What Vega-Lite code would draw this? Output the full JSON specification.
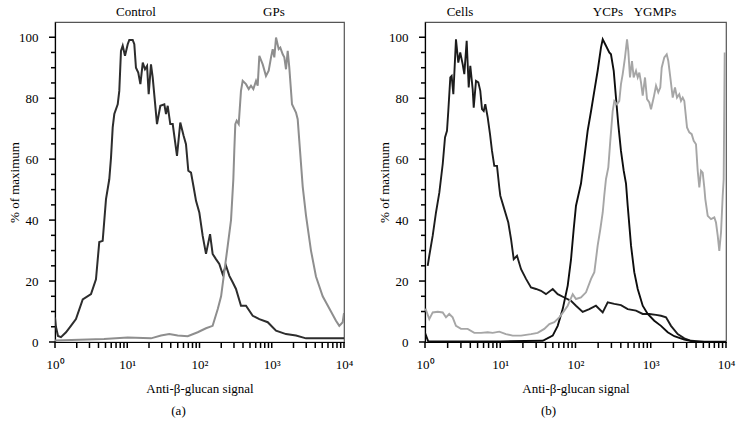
{
  "$schema": "https://vega.github.io/schema/vega-lite/v6.json",
  "background": "white",
  "padding": {"left": 7, "top": 5, "right": 5, "bottom": 5},
  "bounds": "flush",
  "spacing": 81,
  "datasets": {
    "a": [
      {"series":"Control","signal":1,"pct":8},{"series":"Control","signal":1.03,"pct":5},{"series":"Control","signal":1.1,"pct":2},{"series":"Control","signal":1.21,"pct":1.6},{"series":"Control","signal":1.42,"pct":3.2},{"series":"Control","signal":1.66,"pct":5.3},{"series":"Control","signal":1.95,"pct":7.5},{"series":"Control","signal":2.42,"pct":14},{"series":"Control","signal":3.15,"pct":15.7},{"series":"Control","signal":3.69,"pct":20.6},{"series":"Control","signal":4.1,"pct":32.8},{"series":"Control","signal":4.57,"pct":33.2},{"series":"Control","signal":5.08,"pct":46.9},{"series":"Control","signal":5.64,"pct":53.4},{"series":"Control","signal":5.96,"pct":60.5},{"series":"Control","signal":6.29,"pct":70.4},{"series":"Control","signal":6.62,"pct":74.8},{"series":"Control","signal":7.38,"pct":78},{"series":"Control","signal":7.76,"pct":82.4},{"series":"Control","signal":8.19,"pct":95.5},{"series":"Control","signal":8.65,"pct":97.2},{"series":"Control","signal":9.31,"pct":93.9},{"series":"Control","signal":10.15,"pct":97.7},{"series":"Control","signal":10.67,"pct":99.1},{"series":"Control","signal":11.9,"pct":99.1},{"series":"Control","signal":12.52,"pct":97.7},{"series":"Control","signal":13.2,"pct":90},{"series":"Control","signal":14.2,"pct":88.4},{"series":"Control","signal":15.2,"pct":84.6},{"series":"Control","signal":16.4,"pct":91.7},{"series":"Control","signal":17.6,"pct":89.5},{"series":"Control","signal":18.8,"pct":90.6},{"series":"Control","signal":19.8,"pct":81.3},{"series":"Control","signal":21.3,"pct":91.1},{"series":"Control","signal":22.5,"pct":86.8},{"series":"Control","signal":25.8,"pct":71.5},{"series":"Control","signal":28.7,"pct":77.5},{"series":"Control","signal":32.6,"pct":78},{"series":"Control","signal":34.4,"pct":74.8},{"series":"Control","signal":36.3,"pct":77.5},{"series":"Control","signal":39.4,"pct":71.5},{"series":"Control","signal":42.6,"pct":71.5},{"series":"Control","signal":48.8,"pct":61.1},{"series":"Control","signal":54.2,"pct":72},{"series":"Control","signal":60.4,"pct":67.6},{"series":"Control","signal":65,"pct":64.9},{"series":"Control","signal":70,"pct":56.2},{"series":"Control","signal":76.3,"pct":55.6},{"series":"Control","signal":83.1,"pct":50.7},{"series":"Control","signal":89.5,"pct":46.3},{"series":"Control","signal":99.4,"pct":42.5},{"series":"Control","signal":110.7,"pct":34.8},{"series":"Control","signal":123,"pct":28.9},{"series":"Control","signal":140,"pct":35.4},{"series":"Control","signal":152,"pct":28.9},{"series":"Control","signal":169,"pct":27.2},{"series":"Control","signal":188,"pct":25.6},{"series":"Control","signal":209,"pct":22.3},{"series":"Control","signal":233,"pct":25},{"series":"Control","signal":259,"pct":21.7},{"series":"Control","signal":288,"pct":19.6},{"series":"Control","signal":320,"pct":17.4},{"series":"Control","signal":375,"pct":11.9},{"series":"Control","signal":440,"pct":11.9},{"series":"Control","signal":545,"pct":8.6},{"series":"Control","signal":673,"pct":7.5},{"series":"Control","signal":880,"pct":6.5},{"series":"Control","signal":1146,"pct":3.7},{"series":"Control","signal":1575,"pct":2.6},{"series":"Control","signal":2166,"pct":2.1},{"series":"Control","signal":2980,"pct":1.2},{"series":"Control","signal":10000,"pct":1.2},
      {"series":"GPs","signal":1,"pct":0.5},{"series":"GPs","signal":4.77,"pct":1},{"series":"GPs","signal":10.15,"pct":1.5},{"series":"GPs","signal":21.3,"pct":1.2},{"series":"GPs","signal":29.3,"pct":2.1},{"series":"GPs","signal":38.2,"pct":2.6},{"series":"GPs","signal":49.9,"pct":2.1},{"series":"GPs","signal":68.7,"pct":1.9},{"series":"GPs","signal":94.5,"pct":3.2},{"series":"GPs","signal":123,"pct":4.5},{"series":"GPs","signal":152,"pct":5.3},{"series":"GPs","signal":179,"pct":10.8},{"series":"GPs","signal":199,"pct":15},{"series":"GPs","signal":220,"pct":22.9},{"series":"GPs","signal":246,"pct":31.6},{"series":"GPs","signal":273,"pct":40},{"series":"GPs","signal":294,"pct":53.4},{"series":"GPs","signal":303,"pct":62.7},{"series":"GPs","signal":313,"pct":71.5},{"series":"GPs","signal":327,"pct":72.6},{"series":"GPs","signal":349,"pct":71.5},{"series":"GPs","signal":375,"pct":82.4},{"series":"GPs","signal":396,"pct":85.7},{"series":"GPs","signal":440,"pct":84.6},{"series":"GPs","signal":480,"pct":83},{"series":"GPs","signal":516,"pct":84.1},{"series":"GPs","signal":556,"pct":83},{"series":"GPs","signal":606,"pct":85.7},{"series":"GPs","signal":639,"pct":84.1},{"series":"GPs","signal":673,"pct":93.9},{"series":"GPs","signal":750,"pct":91.1},{"series":"GPs","signal":832,"pct":87.3},{"series":"GPs","signal":907,"pct":89},{"series":"GPs","signal":977,"pct":93.4},{"series":"GPs","signal":1031,"pct":96.1},{"series":"GPs","signal":1085,"pct":93.4},{"series":"GPs","signal":1146,"pct":99.9},{"series":"GPs","signal":1248,"pct":96.1},{"series":"GPs","signal":1313,"pct":96.6},{"series":"GPs","signal":1418,"pct":94.4},{"series":"GPs","signal":1493,"pct":93.4},{"series":"GPs","signal":1575,"pct":89.5},{"series":"GPs","signal":1663,"pct":95.5},{"series":"GPs","signal":1750,"pct":90},{"series":"GPs","signal":1907,"pct":78},{"series":"GPs","signal":2166,"pct":75.3},{"series":"GPs","signal":2286,"pct":73.1},{"series":"GPs","signal":2406,"pct":66},{"series":"GPs","signal":2682,"pct":51},{"series":"GPs","signal":2980,"pct":41.5},{"series":"GPs","signal":3491,"pct":30},{"series":"GPs","signal":4093,"pct":21.5},{"series":"GPs","signal":5070,"pct":15},{"series":"GPs","signal":6266,"pct":11},{"series":"GPs","signal":7744,"pct":7},{"series":"GPs","signal":8610,"pct":5.3},{"series":"GPs","signal":9594,"pct":6.5},{"series":"GPs","signal":10000,"pct":9.5}
    ],
    "b": [
      {"series":"Cells","signal":1.086,"pct":25},{"series":"Cells","signal":1.14,"pct":28.3},{"series":"Cells","signal":1.266,"pct":34.9},{"series":"Cells","signal":1.4,"pct":42.5},{"series":"Cells","signal":1.55,"pct":49},{"series":"Cells","signal":1.72,"pct":58.4},{"series":"Cells","signal":1.845,"pct":67.1},{"series":"Cells","signal":1.96,"pct":69.3},{"series":"Cells","signal":2.04,"pct":75.8},{"series":"Cells","signal":2.17,"pct":86.8},{"series":"Cells","signal":2.26,"pct":87.3},{"series":"Cells","signal":2.38,"pct":81.3},{"series":"Cells","signal":2.58,"pct":99.3},{"series":"Cells","signal":2.77,"pct":91.7},{"series":"Cells","signal":2.94,"pct":95},{"series":"Cells","signal":3.17,"pct":91.1},{"series":"Cells","signal":3.33,"pct":87.9},{"series":"Cells","signal":3.58,"pct":98.8},{"series":"Cells","signal":3.81,"pct":83.5},{"series":"Cells","signal":4.0,"pct":90.6},{"series":"Cells","signal":4.3,"pct":83},{"series":"Cells","signal":4.44,"pct":76.9},{"series":"Cells","signal":4.76,"pct":85.7},{"series":"Cells","signal":5.11,"pct":85.2},{"series":"Cells","signal":5.43,"pct":82.4},{"series":"Cells","signal":5.72,"pct":76.4},{"series":"Cells","signal":6.03,"pct":75.8},{"series":"Cells","signal":6.33,"pct":78},{"series":"Cells","signal":6.81,"pct":73.7},{"series":"Cells","signal":7.31,"pct":68.2},{"series":"Cells","signal":7.77,"pct":62.7},{"series":"Cells","signal":8.33,"pct":57.8},{"series":"Cells","signal":9.05,"pct":57.8},{"series":"Cells","signal":9.71,"pct":50.7},{"series":"Cells","signal":10.02,"pct":48},{"series":"Cells","signal":11.32,"pct":43.6},{"series":"Cells","signal":12.79,"pct":39.2},{"series":"Cells","signal":13.9,"pct":33.8},{"series":"Cells","signal":15.1,"pct":27.2},{"series":"Cells","signal":16.7,"pct":28.3},{"series":"Cells","signal":18.9,"pct":23.9},{"series":"Cells","signal":22.0,"pct":20.7},{"series":"Cells","signal":25.6,"pct":17.9},{"series":"Cells","signal":29.9,"pct":17.4},{"series":"Cells","signal":34.8,"pct":16.8},{"series":"Cells","signal":40.5,"pct":15.7},{"series":"Cells","signal":49.8,"pct":17.4},{"series":"Cells","signal":58.0,"pct":15.7},{"series":"Cells","signal":71.0,"pct":14.6},{"series":"Cells","signal":87.1,"pct":13.5},{"series":"Cells","signal":101.5,"pct":11.9},{"series":"Cells","signal":124.6,"pct":9.9},{"series":"Cells","signal":152.5,"pct":10.8},{"series":"Cells","signal":187,"pct":11.9},{"series":"Cells","signal":230,"pct":9.7},{"series":"Cells","signal":268,"pct":13},{"series":"Cells","signal":328,"pct":12.5},{"series":"Cells","signal":402,"pct":12.1},{"series":"Cells","signal":494,"pct":10.8},{"series":"Cells","signal":637,"pct":10.3},{"series":"Cells","signal":782,"pct":9.2},{"series":"Cells","signal":957,"pct":9.2},{"series":"Cells","signal":1175,"pct":8.9},{"series":"Cells","signal":1368,"pct":8.6},{"series":"Cells","signal":1596,"pct":8.1},{"series":"Cells","signal":1858,"pct":5.3},{"series":"Cells","signal":2280,"pct":2.6},{"series":"Cells","signal":2792,"pct":1.2},{"series":"Cells","signal":3428,"pct":0.4},{"series":"Cells","signal":5150,"pct":0.1},{"series":"Cells","signal":10000,"pct":0.1},
      {"series":"YCPs","signal":1.0,"pct":3},{"series":"YCPs","signal":1.1,"pct":0.3},{"series":"YCPs","signal":10,"pct":0.2},{"series":"YCPs","signal":36.7,"pct":0.4},{"series":"YCPs","signal":49.8,"pct":2.1},{"series":"YCPs","signal":58.0,"pct":5.3},{"series":"YCPs","signal":67.6,"pct":10.8},{"series":"YCPs","signal":78.8,"pct":18.5},{"series":"YCPs","signal":87.1,"pct":27},{"series":"YCPs","signal":94.6,"pct":37},{"series":"YCPs","signal":101.5,"pct":44.7},{"series":"YCPs","signal":118.3,"pct":52},{"series":"YCPs","signal":131,"pct":60.5},{"series":"YCPs","signal":145,"pct":69.3},{"series":"YCPs","signal":161,"pct":75.8},{"series":"YCPs","signal":178,"pct":82.4},{"series":"YCPs","signal":197,"pct":89},{"series":"YCPs","signal":218,"pct":96.6},{"series":"YCPs","signal":230,"pct":99.3},{"series":"YCPs","signal":254,"pct":97.2},{"series":"YCPs","signal":281,"pct":95},{"series":"YCPs","signal":296,"pct":94.4},{"series":"YCPs","signal":322,"pct":89},{"series":"YCPs","signal":345,"pct":80.2},{"series":"YCPs","signal":370,"pct":71.5},{"series":"YCPs","signal":402,"pct":62.7},{"series":"YCPs","signal":437,"pct":56.2},{"series":"YCPs","signal":469,"pct":52},{"series":"YCPs","signal":494,"pct":44.7},{"series":"YCPs","signal":547,"pct":31.6},{"series":"YCPs","signal":604,"pct":22.9},{"series":"YCPs","signal":671,"pct":17.4},{"series":"YCPs","signal":782,"pct":11.9},{"series":"YCPs","signal":911,"pct":9.2},{"series":"YCPs","signal":1114,"pct":7},{"series":"YCPs","signal":1368,"pct":5.3},{"series":"YCPs","signal":1680,"pct":3.2},{"series":"YCPs","signal":2056,"pct":1.9},{"series":"YCPs","signal":2792,"pct":0.8},{"series":"YCPs","signal":3790,"pct":0.1},{"series":"YCPs","signal":10000,"pct":0},
      {"series":"YGMPs","signal":1.015,"pct":11},{"series":"YGMPs","signal":1.14,"pct":7.5},{"series":"YGMPs","signal":1.266,"pct":9.7},{"series":"YGMPs","signal":1.475,"pct":9.9},{"series":"YGMPs","signal":1.72,"pct":9.7},{"series":"YGMPs","signal":1.9,"pct":8.1},{"series":"YGMPs","signal":2.1,"pct":9.2},{"series":"YGMPs","signal":2.33,"pct":8.1},{"series":"YGMPs","signal":2.58,"pct":5.3},{"series":"YGMPs","signal":3.01,"pct":4.3},{"series":"YGMPs","signal":3.69,"pct":4.3},{"series":"YGMPs","signal":4.52,"pct":3},{"series":"YGMPs","signal":5.55,"pct":3},{"series":"YGMPs","signal":6.81,"pct":3.2},{"series":"YGMPs","signal":7.93,"pct":3},{"series":"YGMPs","signal":9.71,"pct":3.4},{"series":"YGMPs","signal":11.9,"pct":2.6},{"series":"YGMPs","signal":14.6,"pct":2.1},{"series":"YGMPs","signal":18.9,"pct":2.1},{"series":"YGMPs","signal":25.6,"pct":2.6},{"series":"YGMPs","signal":31.4,"pct":3},{"series":"YGMPs","signal":38.5,"pct":4.3},{"series":"YGMPs","signal":44.9,"pct":5.9},{"series":"YGMPs","signal":52.3,"pct":6.5},{"series":"YGMPs","signal":60.9,"pct":8.1},{"series":"YGMPs","signal":71.0,"pct":10.3},{"series":"YGMPs","signal":78.8,"pct":11.9},{"series":"YGMPs","signal":91.8,"pct":15.7},{"series":"YGMPs","signal":101.5,"pct":14.1},{"series":"YGMPs","signal":118.3,"pct":14.6},{"series":"YGMPs","signal":137.9,"pct":16.3},{"series":"YGMPs","signal":161,"pct":20.7},{"series":"YGMPs","signal":178,"pct":22.9},{"series":"YGMPs","signal":197,"pct":31.6},{"series":"YGMPs","signal":213.6,"pct":37},{"series":"YGMPs","signal":230,"pct":42.5},{"series":"YGMPs","signal":241,"pct":48},{"series":"YGMPs","signal":254,"pct":53.4},{"series":"YGMPs","signal":273,"pct":57.3},{"series":"YGMPs","signal":290,"pct":66},{"series":"YGMPs","signal":312,"pct":75.8},{"series":"YGMPs","signal":328,"pct":79.1},{"series":"YGMPs","signal":356,"pct":78},{"series":"YGMPs","signal":382,"pct":79.1},{"series":"YGMPs","signal":402,"pct":84.6},{"series":"YGMPs","signal":424,"pct":87.9},{"series":"YGMPs","signal":455,"pct":93.4},{"series":"YGMPs","signal":484,"pct":99.3},{"series":"YGMPs","signal":503,"pct":95.5},{"series":"YGMPs","signal":530,"pct":86.8},{"series":"YGMPs","signal":563,"pct":92.2},{"series":"YGMPs","signal":593,"pct":86.8},{"series":"YGMPs","signal":637,"pct":89},{"series":"YGMPs","signal":671,"pct":86.8},{"series":"YGMPs","signal":705,"pct":88.4},{"series":"YGMPs","signal":742,"pct":85.2},{"series":"YGMPs","signal":782,"pct":80.8},{"series":"YGMPs","signal":839,"pct":86.8},{"series":"YGMPs","signal":892,"pct":79.7},{"series":"YGMPs","signal":957,"pct":78.6},{"series":"YGMPs","signal":1008,"pct":76.4},{"series":"YGMPs","signal":1094,"pct":80.2},{"series":"YGMPs","signal":1175,"pct":84.1},{"series":"YGMPs","signal":1259,"pct":81.9},{"series":"YGMPs","signal":1339,"pct":83.5},{"series":"YGMPs","signal":1398,"pct":90},{"series":"YGMPs","signal":1514,"pct":93.4},{"series":"YGMPs","signal":1630,"pct":94.4},{"series":"YGMPs","signal":1711,"pct":92.2},{"series":"YGMPs","signal":1820,"pct":86.8},{"series":"YGMPs","signal":1958,"pct":80.2},{"series":"YGMPs","signal":2100,"pct":83.5},{"series":"YGMPs","signal":2233,"pct":80.2},{"series":"YGMPs","signal":2396,"pct":81.3},{"series":"YGMPs","signal":2524,"pct":79.1},{"series":"YGMPs","signal":2660,"pct":80.2},{"series":"YGMPs","signal":2792,"pct":79.1},{"series":"YGMPs","signal":3033,"pct":70.4},{"series":"YGMPs","signal":3254,"pct":68.8},{"series":"YGMPs","signal":3500,"pct":68.2},{"series":"YGMPs","signal":3721,"pct":66},{"series":"YGMPs","signal":3992,"pct":64.9},{"series":"YGMPs","signal":4207,"pct":56.2},{"series":"YGMPs","signal":4419,"pct":50.7},{"series":"YGMPs","signal":4655,"pct":56.2},{"series":"YGMPs","signal":4900,"pct":55.6},{"series":"YGMPs","signal":5150,"pct":50.7},{"series":"YGMPs","signal":5309,"pct":46.9},{"series":"YGMPs","signal":5715,"pct":41.4},{"series":"YGMPs","signal":6322,"pct":40.3},{"series":"YGMPs","signal":6997,"pct":40.9},{"series":"YGMPs","signal":7364,"pct":39.2},{"series":"YGMPs","signal":7760,"pct":34.9},{"series":"YGMPs","signal":8150,"pct":29.9},{"series":"YGMPs","signal":8590,"pct":36},{"series":"YGMPs","signal":9040,"pct":48},{"series":"YGMPs","signal":9315,"pct":53.4},{"series":"YGMPs","signal":9610,"pct":95}
    ],
    "la": [{"label":"Control","signal":13.2},{"label":"GPs","signal":1073}],
    "lb": [{"label":"Cells","signal":2.92},{"label":"YCPs","signal":270},{"label":"YGMPs","signal":1138}],
    "xt": [{"v":1},{"v":2},{"v":3},{"v":4},{"v":5},{"v":6},{"v":7},{"v":8},{"v":9},{"v":10},{"v":20},{"v":30},{"v":40},{"v":50},{"v":60},{"v":70},{"v":80},{"v":90},{"v":100},{"v":200},{"v":300},{"v":400},{"v":500},{"v":600},{"v":700},{"v":800},{"v":900},{"v":1000},{"v":2000},{"v":3000},{"v":4000},{"v":5000},{"v":6000},{"v":7000},{"v":8000},{"v":9000},{"v":10000}],
    "yt": [{"v":0},{"v":5},{"v":10},{"v":15},{"v":20},{"v":25},{"v":30},{"v":35},{"v":40},{"v":45},{"v":50},{"v":55},{"v":60},{"v":65},{"v":70},{"v":75},{"v":80},{"v":85},{"v":90},{"v":95},{"v":100}]
  },
  "hconcat": [
    {
      "width": 289, "height": 320,
      "title": {"text": "(a)", "orient": "bottom", "offset": 10, "dx": -21},
      "layer": [
        {
          "data": {"name": "a"},
          "mark": {"type": "line", "strokeWidth": 2, "clip": true},
          "encoding": {
            "x": {"field": "signal", "type": "quantitative",
              "scale": {"type": "log", "domain": [1, 10000], "nice": false},
              "axis": {"title": "Anti-β-glucan signal", "values": [1,10,100,1000,10000],
                "labelExpr": "datum.value === 1 ? '10⁰' : datum.value === 10 ? '10¹' : datum.value === 100 ? '10²' : datum.value === 1000 ? '10³' : '10⁴'",
                "labelOverlap": false, "labelFlush": false, "labelPadding": 16, "titlePadding": 11, "ticks": false}},
            "y": {"field": "pct", "type": "quantitative",
              "scale": {"domain": [0, 105], "nice": false},
              "axis": {"title": "% of maximum", "values": [0,20,40,60,80,100],
                "labelOverlap": false, "labelPadding": 17, "titlePadding": -3, "ticks": false}},
            "color": {"field": "series", "type": "nominal", "scale": {"domain": ["Control", "GPs"], "range": ["#2d2d2d", "#8e8e8e"]}, "legend": null}
          }
        },
        {
          "data": {"name": "la"},
          "mark": {"type": "text", "fontSize": 13, "baseline": "middle", "color": "#000"},
          "encoding": {
            "x": {"field": "signal", "type": "quantitative"},
            "y": {"datum": 108.3, "type": "quantitative"},
            "text": {"field": "label"}
          }
        },
        {
          "data": {"name": "xt"},
          "mark": {"type": "tick", "orient": "vertical", "size": 6, "thickness": 1.5, "yOffset": 3, "color": "#000", "opacity": 1},
          "encoding": {
            "x": {"field": "v", "type": "quantitative"},
            "y": {"datum": 0, "type": "quantitative"}
          }
        },
        {
          "data": {"name": "yt"},
          "transform": [{"filter": "datum.v % 20 === 0"}],
          "mark": {"type": "tick", "orient": "horizontal", "size": 6, "thickness": 1.5, "xOffset": -3, "color": "#000", "opacity": 1},
          "encoding": {
            "x": {"datum": 1, "type": "quantitative"},
            "y": {"field": "v", "type": "quantitative"}
          }
        },
        {
          "data": {"name": "yt"},
          "transform": [{"filter": "datum.v % 20 !== 0"}],
          "mark": {"type": "tick", "orient": "horizontal", "size": 4, "thickness": 1.5, "xOffset": -2, "color": "#000", "opacity": 1},
          "encoding": {
            "x": {"datum": 1, "type": "quantitative"},
            "y": {"field": "v", "type": "quantitative"}
          }
        }
      ]
    },
    {
      "width": 301, "height": 320,
      "title": {"text": "(b)", "orient": "bottom", "offset": 10, "dx": -27},
      "layer": [
        {
          "data": {"name": "b"},
          "mark": {"type": "line", "strokeWidth": 1.9, "clip": true},
          "encoding": {
            "x": {"field": "signal", "type": "quantitative",
              "scale": {"type": "log", "domain": [1, 10000], "nice": false},
              "axis": {"title": "Anti-β-glucan signal", "values": [1,10,100,1000,10000],
                "labelExpr": "datum.value === 1 ? '10⁰' : datum.value === 10 ? '10¹' : datum.value === 100 ? '10²' : datum.value === 1000 ? '10³' : '10⁴'",
                "labelOverlap": false, "labelFlush": false, "labelPadding": 16, "titlePadding": 11, "ticks": false}},
            "y": {"field": "pct", "type": "quantitative",
              "scale": {"domain": [0, 105], "nice": false},
              "axis": {"title": "% of maximum", "values": [0,20,40,60,80,100],
                "labelOverlap": false, "labelPadding": 17, "titlePadding": -3, "ticks": false}},
            "color": {"field": "series", "type": "nominal", "scale": {"domain": ["Cells", "YCPs", "YGMPs"], "range": ["#1c1c1c", "#0d0d0d", "#a6a6a6"]}, "legend": null}
          }
        },
        {
          "data": {"name": "lb"},
          "mark": {"type": "text", "fontSize": 13, "baseline": "middle", "color": "#000"},
          "encoding": {
            "x": {"field": "signal", "type": "quantitative"},
            "y": {"datum": 108.3, "type": "quantitative"},
            "text": {"field": "label"}
          }
        },
        {
          "data": {"name": "xt"},
          "mark": {"type": "tick", "orient": "vertical", "size": 6, "thickness": 1.5, "yOffset": 3, "color": "#000", "opacity": 1},
          "encoding": {
            "x": {"field": "v", "type": "quantitative"},
            "y": {"datum": 0, "type": "quantitative"}
          }
        },
        {
          "data": {"name": "yt"},
          "transform": [{"filter": "datum.v % 20 === 0"}],
          "mark": {"type": "tick", "orient": "horizontal", "size": 6, "thickness": 1.5, "xOffset": -3, "color": "#000", "opacity": 1},
          "encoding": {
            "x": {"datum": 1, "type": "quantitative"},
            "y": {"field": "v", "type": "quantitative"}
          }
        },
        {
          "data": {"name": "yt"},
          "transform": [{"filter": "datum.v % 20 !== 0"}],
          "mark": {"type": "tick", "orient": "horizontal", "size": 4, "thickness": 1.5, "xOffset": -2, "color": "#000", "opacity": 1},
          "encoding": {
            "x": {"datum": 1, "type": "quantitative"},
            "y": {"field": "v", "type": "quantitative"}
          }
        }
      ]
    }
  ],
  "resolve": {"scale": {"color": "independent", "x": "independent", "y": "independent"}},
  "config": {
    "font": "Liberation Serif",
    "view": {"stroke": "#555", "strokeWidth": 1.2},
    "axis": {"grid": false, "domainColor": "#000", "domainWidth": 1.2, "labelColor": "#000", "titleColor": "#000",
      "labelFontSize": 13, "titleFontSize": 13, "titleFontWeight": "normal", "labelFont": "Liberation Serif", "titleFont": "Liberation Serif"},
    "title": {"font": "Liberation Serif", "fontSize": 13, "fontWeight": "normal", "color": "#000"},
    "text": {"font": "Liberation Serif"}
  }
}
